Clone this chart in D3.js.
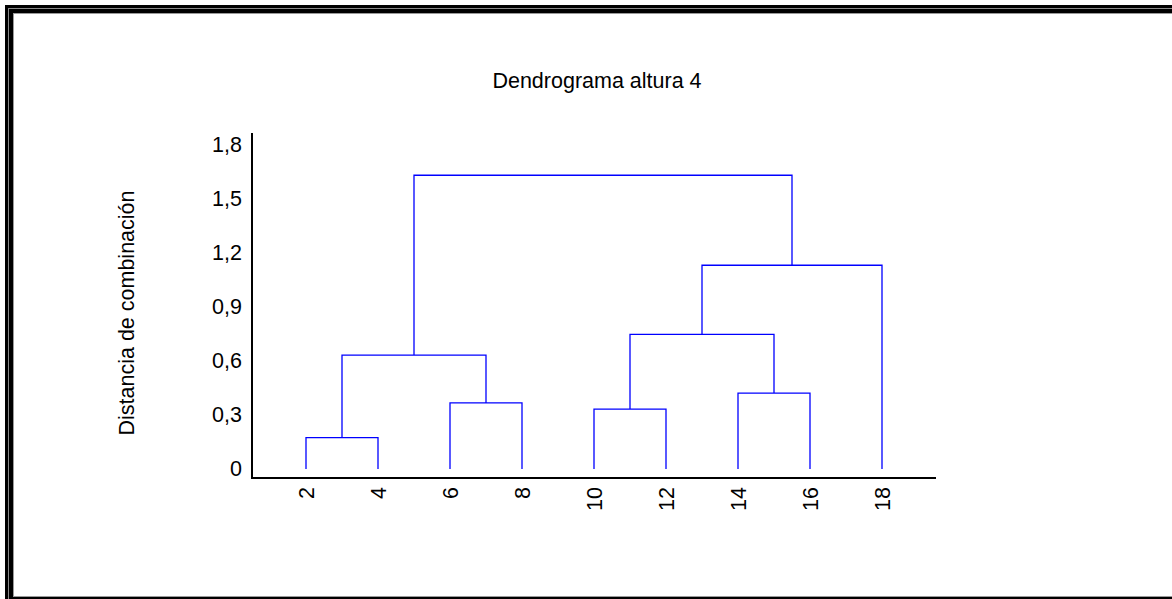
<!DOCTYPE html>
<html>
<head>
<meta charset="utf-8">
<script src="https://cdn.jsdelivr.net/npm/d3@7"></script>
<style>
  html, body { margin: 0; padding: 0; background: #fff; }
  svg { display: block; }
  text { font-family: "Liberation Sans", Arial, sans-serif; fill: #000; }
</style>
</head>
<body>
<svg id="chart" width="1172" height="599"></svg>
<script>
// Leaves of the dendrogram (also the x tick labels)
const leaves = ["2", "4", "6", "8", "10", "12", "14", "16", "18"];
const leafPos = [2, 4, 6, 8, 10, 12, 14, 16, 18];

// Agglomeration steps: [left member, right member, new cluster id]
const mergePairs = [
  ["2", "4", "A"],
  ["10", "12", "B"],
  ["6", "8", "C"],
  ["14", "16", "D"],
  ["A", "C", "E"],
  ["B", "D", "F"],
  ["F", "18", "G"],
  ["E", "G", "H"]
];
// Combination distance of each step
const mergeHeights = [0.174, 0.333, 0.367, 0.422, 0.633, 0.748, 1.132, 1.632];

const yTicks = [0, 0.3, 0.6, 0.9, 1.2, 1.5, 1.8];
const yTickLabels = ["0", "0,3", "0,6", "0,9", "1,2", "1,5", "1,8"];

const titleText = "Dendrograma altura 4";
const yAxisTitle = "Distancia de combinación";

const fontSize = "21.5px";

const svg = d3.select("#chart");

// Outer window frame
svg.append("rect").attr("x", 9).attr("y", 9).attr("width", 1200).attr("height", 592)
  .attr("fill", "none").attr("stroke", "#000").attr("stroke-width", 8);
svg.append("rect").attr("x", 8.5).attr("y", 8.5).attr("width", 1200).attr("height", 593)
  .attr("fill", "none").attr("stroke", "#8a8a8a").attr("stroke-width", 1);
svg.append("rect").attr("x", 13.5).attr("y", 13.5).attr("width", 1200).attr("height", 583)
  .attr("fill", "none").attr("stroke", "#9a9a9a").attr("stroke-width", 1);

const x = d3.scaleLinear().domain([0.5, 19.5]).range([252, 936]);
const y = d3.scaleLinear().domain([0, 1.8]).range([469, 145]);

// Title
svg.append("text")
  .attr("x", 597).attr("y", 88)
  .attr("text-anchor", "middle")
  .style("font-size", fontSize)
  .text(titleText);

// Y axis title
svg.append("text")
  .attr("transform", "translate(134,313) rotate(-90)")
  .attr("text-anchor", "middle")
  .style("font-size", fontSize)
  .text(yAxisTitle);

// Axis lines
svg.append("line").attr("x1", 252).attr("x2", 252).attr("y1", 133).attr("y2", 479)
  .attr("stroke", "#000").attr("stroke-width", 2);
svg.append("line").attr("x1", 251).attr("x2", 936).attr("y1", 478).attr("y2", 478)
  .attr("stroke", "#000").attr("stroke-width", 2);

// Y axis tick labels
const yAxis = d3.axisLeft(y).tickValues(yTicks)
  .tickFormat((d, i) => yTickLabels[i]).tickSize(0).tickPadding(10);
const gy = svg.append("g").attr("transform", "translate(252,0)").call(yAxis);
gy.select(".domain").remove();
gy.selectAll("text").style("font-size", fontSize).attr("font-family", null);

// X axis tick labels (rotated)
const xAxis = d3.axisBottom(x).tickValues(leafPos)
  .tickFormat((d, i) => leaves[i]).tickSize(0);
const gx = svg.append("g").attr("transform", "translate(0,478)").call(xAxis);
gx.select(".domain").remove();
gx.selectAll("text")
  .style("font-size", fontSize).attr("font-family", null)
  .attr("text-anchor", "end")
  .attr("dy", "0.35em")
  .attr("transform", "translate(0,9) rotate(-90)")
  .attr("x", 0).attr("y", 0);

// Build dendrogram links
const nodes = {};
leaves.forEach((name, i) => { nodes[name] = { x: x(leafPos[i]), h: 0 }; });
const links = [];
mergePairs.forEach(([a, b, id], i) => {
  const h = mergeHeights[i];
  const na = nodes[a], nb = nodes[b];
  links.push([[na.x, y(na.h)], [na.x, y(h)], [nb.x, y(h)], [nb.x, y(nb.h)]]);
  nodes[id] = { x: (na.x + nb.x) / 2, h: h };
});

svg.append("g")
  .selectAll("path")
  .data(links)
  .join("path")
  .attr("d", d3.line())
  .attr("fill", "none")
  .attr("stroke", "#0000ff")
  .attr("stroke-width", 1.3);
</script>
</body>
</html>
